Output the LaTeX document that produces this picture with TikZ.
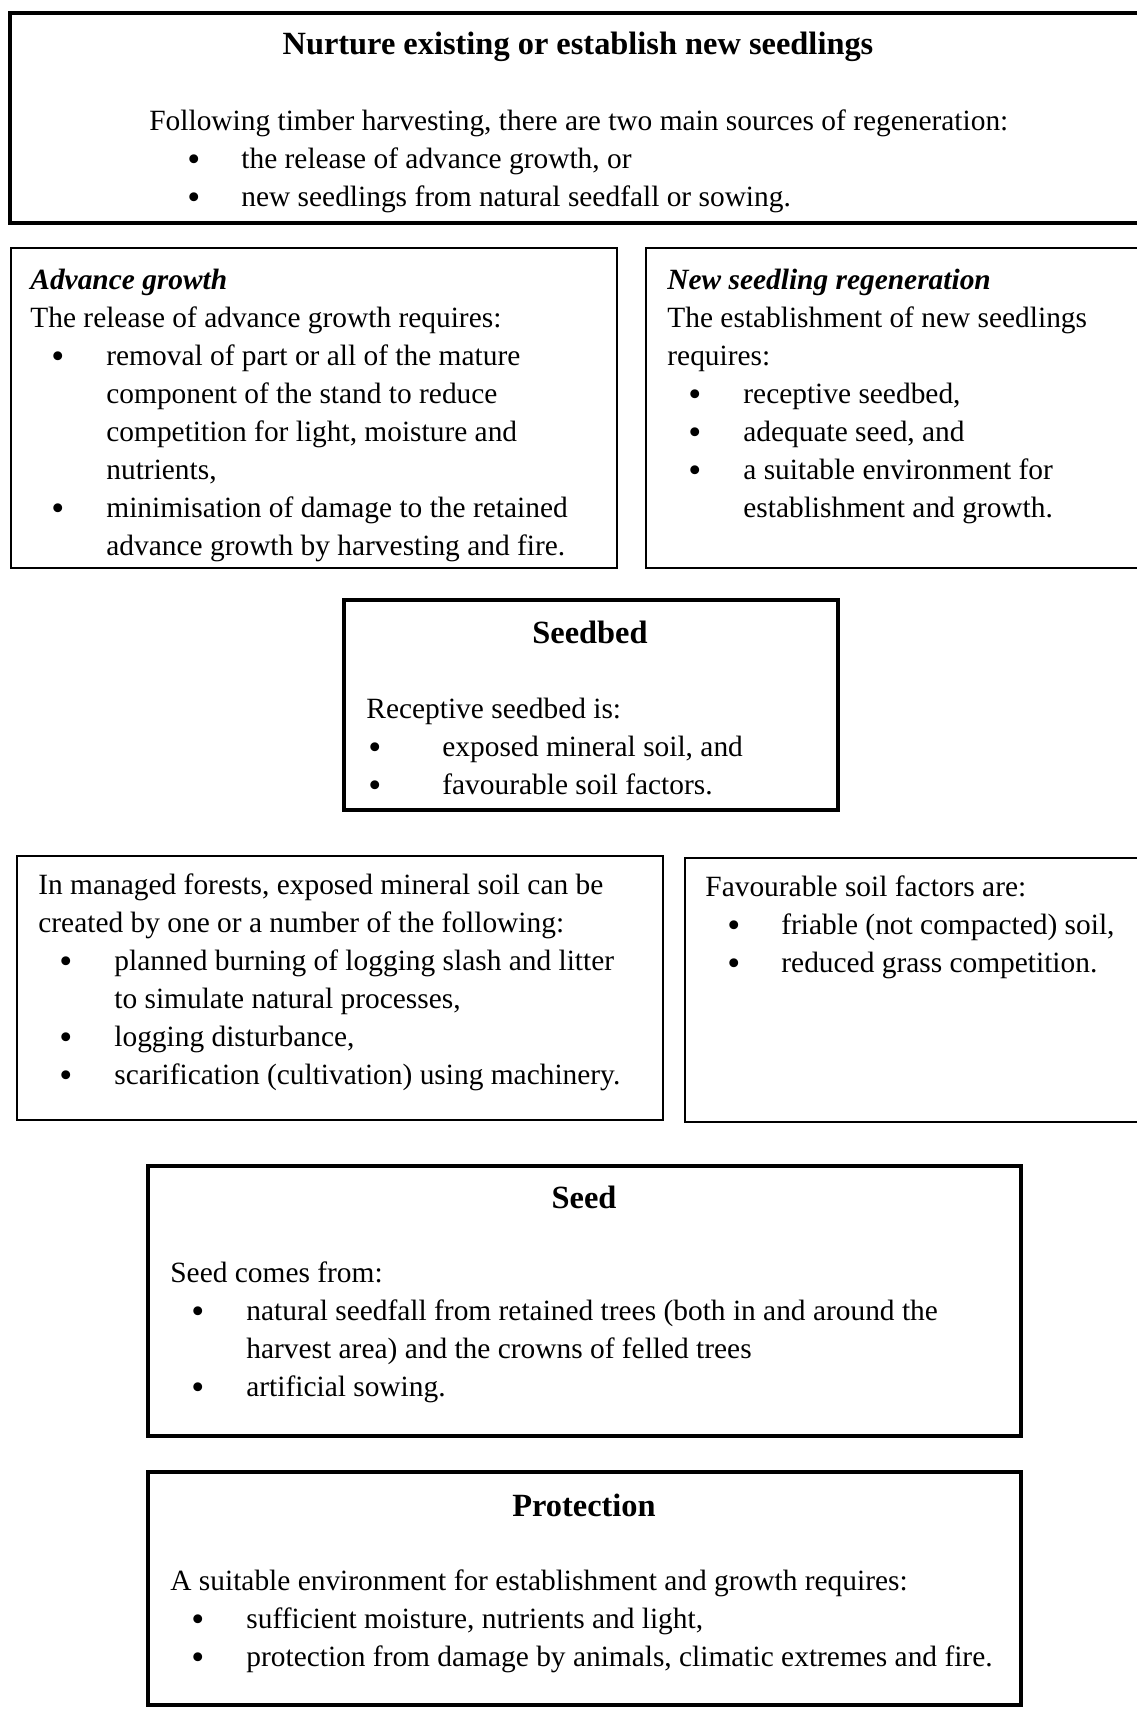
\documentclass[tikz,border=0pt]{standalone}
\usepackage{fontspec}
\setmainfont{Liberation Serif}
\usetikzlibrary{fit}

\newlength{\bulind}
\newlength{\txtind}
\setlength{\bulind}{10.5pt}
\setlength{\txtind}{38pt}
\newcommand{\bigdot}{\raisebox{-1.8pt}{\fontsize{18.5}{19}\selectfont\textbullet}}
\newcommand{\pline}[1]{\hbox{#1}}
\newcommand{\bitem}[1]{\hbox{\hbox to \txtind{\hskip\bulind\bigdot\hss}#1}}
\newcommand{\bcont}[1]{\hbox{\hskip\txtind #1}}

\begin{document}
\begin{tikzpicture}[
      x=0.5pt,y=-0.5pt,
      font=\fontsize{14.7}{19}\selectfont,
      thickbox/.style = {draw,line width=2pt,inner sep=0pt},
      thinbox/.style = {draw,line width=0.9pt,inner sep=0pt},
      heading/.style = {inner sep=0pt,anchor=base,font=\fontsize{16.2}{19}\selectfont\bfseries},
      bodytext/.style = {inner sep=0pt,anchor=base west}
    ]
      \useasboundingbox (0,0) rectangle (1136,1735);
      % boxes
      \node (topbox)[thickbox,fit={(10,13) (1147,223)}]{};
      \node (agbox)[thinbox,fit={(11,248) (617,568)}]{};
      \node (nsbox)[thinbox,fit={(646,248) (1150,568)}]{};
      \node (sbbox)[thickbox,fit={(344,600) (838,810)}]{};
      \node (msbox)[thinbox,fit={(17,856) (663,1120)}]{};
      \node (fsbox)[thinbox,fit={(685,858) (1150,1122)}]{};
      \node (seedbox)[thickbox,fit={(148,1166) (1021,1436)}]{};
      \node (protbox)[thickbox,fit={(148,1472) (1021,1705)}]{};
      % top
      \node (toptitle)[heading] at (578,54) {Nurture existing or establish new seedlings};
      \node (toptext)[bodytext] at (149,130) {\setlength{\bulind}{19pt}\setlength{\txtind}{46pt}\vtop{
        \pline{Following timber harvesting, there are two main sources of regeneration:}
        \bitem{the release of advance growth, or}
        \bitem{new seedlings from natural seedfall or sowing.}}};
      % advance growth
      \node (agtext)[bodytext] at (30,289) {\vtop{
        \pline{\bfseries\itshape Advance growth}
        \pline{The release of advance growth requires:}
        \bitem{removal of part or all of the mature}
        \bcont{component of the stand to reduce}
        \bcont{competition for light, moisture and}
        \bcont{nutrients,}
        \bitem{minimisation of damage to the retained}
        \bcont{advance growth by harvesting and fire.}}};
      % new seedling regeneration
      \node (nstext)[bodytext] at (667,289) {\vtop{
        \pline{\bfseries\itshape New seedling regeneration}
        \pline{The establishment of new seedlings}
        \pline{requires:}
        \bitem{receptive seedbed,}
        \bitem{adequate seed, and}
        \bitem{a suitable environment for}
        \bcont{establishment and growth.}}};
      % seedbed
      \node (sbtitle)[heading] at (590,643) {Seedbed};
      \node (sbtext)[bodytext] at (366,718) {\setlength{\bulind}{1pt}\vtop{
        \pline{Receptive seedbed is:}
        \bitem{exposed mineral soil, and}
        \bitem{favourable soil factors.}}};
      % mineral soil
      \node (mstext)[bodytext] at (38,894) {\vtop{
        \pline{In managed forests, exposed mineral soil can be}
        \pline{created by one or a number of the following:}
        \bitem{planned burning of logging slash and litter}
        \bcont{to simulate natural processes,}
        \bitem{logging disturbance,}
        \bitem{scarification (cultivation) using machinery.}}};
      % soil factors
      \node (fstext)[bodytext] at (705,896) {\setlength{\bulind}{11pt}\vtop{
        \pline{Favourable soil factors are:}
        \bitem{friable (not compacted) soil,}
        \bitem{reduced grass competition.}}};
      % seed
      \node (seedtitle)[heading] at (584,1208) {Seed};
      \node (seedtext)[bodytext] at (170,1282) {\vtop{
        \pline{Seed comes from:}
        \bitem{natural seedfall from retained trees (both in and around the}
        \bcont{harvest area) and the crowns of felled trees}
        \bitem{artificial sowing.}}};
      % protection
      \node (prottitle)[heading] at (584,1516) {Protection};
      \node (prottext)[bodytext] at (170,1590) {\vtop{
        \pline{A suitable environment for establishment and growth requires:}
        \bitem{sufficient moisture, nutrients and light,}
        \bitem{protection from damage by animals, climatic extremes and fire.}}};
    \end{tikzpicture}
\end{document}
